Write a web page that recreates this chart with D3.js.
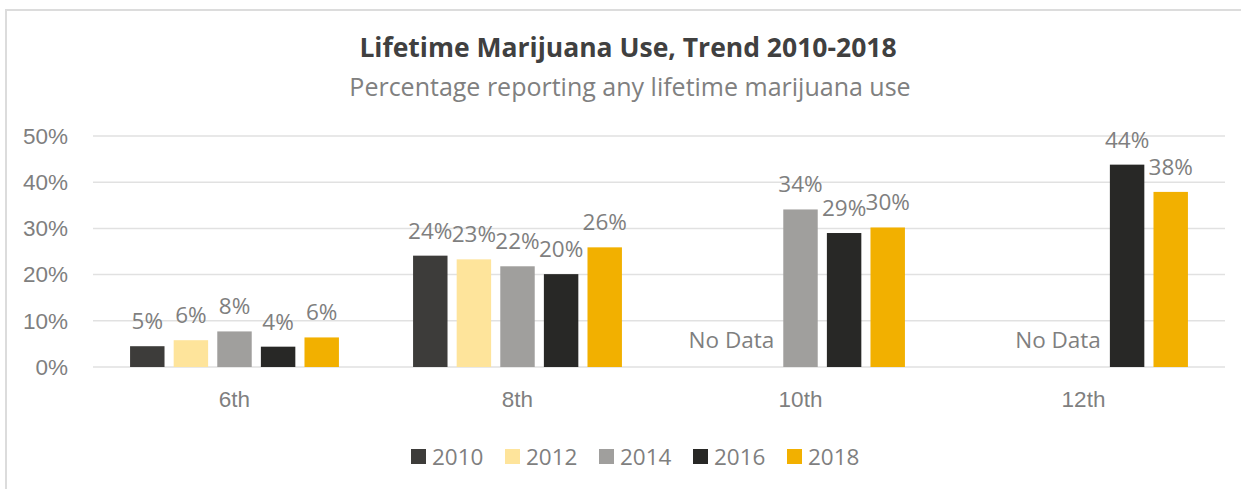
<!DOCTYPE html>
<html>
<head>
<meta charset="utf-8">
<script src="https://cdn.jsdelivr.net/npm/d3@7"></script>
<style>
  body { margin: 0; background: #fff; }
  svg { display: block; font-family: "Open Sans", "Noto Sans", sans-serif; }
  .grid line { stroke: #e1e1e1; stroke-width: 1.5; }
  .axis text { fill: #7f7f7f; font-size: 22.5px; }
  .lbl { fill: #7f7f7f; font-size: 22.5px; }
</style>
</head>
<body>
<svg id="chart"></svg>
<script>
// grades on the x axis, years as series
const grades = ["6th", "8th", "10th", "12th"];
const years = ["2010", "2012", "2014", "2016", "2018"];
// percent values per year, one entry per grade (null = no data)
const v2010 = [4.5, 24.1, null, null];
const v2012 = [5.8, 23.3, null, null];
const v2014 = [7.7, 21.8, 34.1, null];
const v2016 = [4.4, 20.1, 29.0, 43.8];
const v2018 = [6.4, 25.9, 30.2, 37.9];
const yTicks = [0, 10, 20, 30, 40, 50];
const colors = ["#3d3c3a", "#fee49b", "#a09f9d", "#282826", "#f2b000"];

const width = 1241, height = 489;
const margin = {top: 136, right: 16, bottom: 122, left: 93};

const series = [v2010, v2012, v2014, v2016, v2018];
const rows = [];
grades.forEach((g, gi) => {
    years.forEach((yr, yi) => {
        rows.push({grade: g, year: yr, value: series[yi][gi]});
    });
});

const svg = d3.select("#chart")
    .attr("width", width)
    .attr("height", height);

// light frame of the chart area (runs off the right and bottom)
svg.append("path")
    .attr("d", `M6,${height + 5}V10H${width + 5}`)
    .attr("fill", "none")
    .attr("stroke", "#dcdcdc")
    .attr("stroke-width", 2);

// titles
svg.append("text")
    .attr("x", 628).attr("y", 57)
    .attr("text-anchor", "middle")
    .attr("font-size", 26.5).attr("font-weight", "bold")
    .attr("fill", "#404040")
    .text("Lifetime Marijuana Use, Trend 2010-2018");

svg.append("text")
    .attr("x", 630).attr("y", 96)
    .attr("text-anchor", "middle")
    .attr("font-size", 25)
    .attr("fill", "#808080")
    .text("Percentage reporting any lifetime marijuana use");

const x0 = d3.scaleBand()
    .domain(grades)
    .range([margin.left, width - margin.right]);

// bars inside a grade
const x1 = d3.scaleBand()
    .domain(years)
    .range([0, x0.bandwidth()])
    .paddingInner(0.21)
    .paddingOuter(0.85);

const y = d3.scaleLinear()
    .domain([0, 50])
    .range([height - margin.bottom, margin.top]);

const color = d3.scaleOrdinal().domain(years).range(colors);

// gridlines
svg.append("g")
    .attr("class", "grid")
    .selectAll("line")
    .data(yTicks)
    .join("line")
    .attr("x1", margin.left)
    .attr("x2", width - margin.right)
    .attr("y1", d => y(d))
    .attr("y2", d => y(d));

// y axis labels, no line
const yAxis = d3.axisLeft(y)
    .tickValues(yTicks)
    .tickFormat(d => d + "%")
    .tickSize(0)
    .tickPadding(25);

svg.append("g")
    .attr("class", "axis")
    .attr("transform", `translate(${margin.left},0)`)
    .call(yAxis)
    .call(g => g.select(".domain").remove());

// x axis labels
const xAxis = d3.axisBottom(x0)
    .tickSize(0)
    .tickPadding(24);

svg.append("g")
    .attr("class", "axis")
    .attr("transform", `translate(0,${y(0)})`)
    .call(xAxis)
    .call(g => g.select(".domain").remove());

const present = rows.filter(d => d.value !== null);

svg.append("g")
    .selectAll("rect")
    .data(present)
    .join("rect")
    .attr("x", d => x0(d.grade) + x1(d.year))
    .attr("y", d => y(d.value))
    .attr("width", x1.bandwidth())
    .attr("height", d => y(0) - y(d.value))
    .attr("fill", d => color(d.year));

// value labels above the bars
svg.append("g")
    .selectAll("text")
    .data(present)
    .join("text")
    .attr("class", "lbl")
    .attr("text-anchor", "middle")
    .attr("x", d => x0(d.grade) + x1(d.year) + x1.bandwidth() / 2)
    .attr("y", d => y(d.value) - 17)
    .text(d => Math.round(d.value) + "%");

// "No Data" sits just left of the first bar that has a value
const missing = grades.filter(g => rows.some(d => d.grade === g && d.value === null));
svg.append("g")
    .selectAll("text")
    .data(missing)
    .join("text")
    .attr("class", "lbl")
    .attr("text-anchor", "end")
    .attr("x", g => {
        const first = present.find(d => d.grade === g);
        return x0(g) + x1(first.year) - 9;
    })
    .attr("y", 348)
    .text("No Data");

// legend
const legend = svg.append("g")
    .selectAll("g")
    .data(years)
    .join("g")
    .attr("transform", (d, i) => `translate(${411 + i * 94},449)`);

legend.append("rect")
    .attr("width", 15).attr("height", 15)
    .attr("fill", d => color(d));

legend.append("text")
    .attr("class", "lbl")
    .attr("x", 21).attr("y", 16)
    .text(d => d);
</script>
</body>
</html>
